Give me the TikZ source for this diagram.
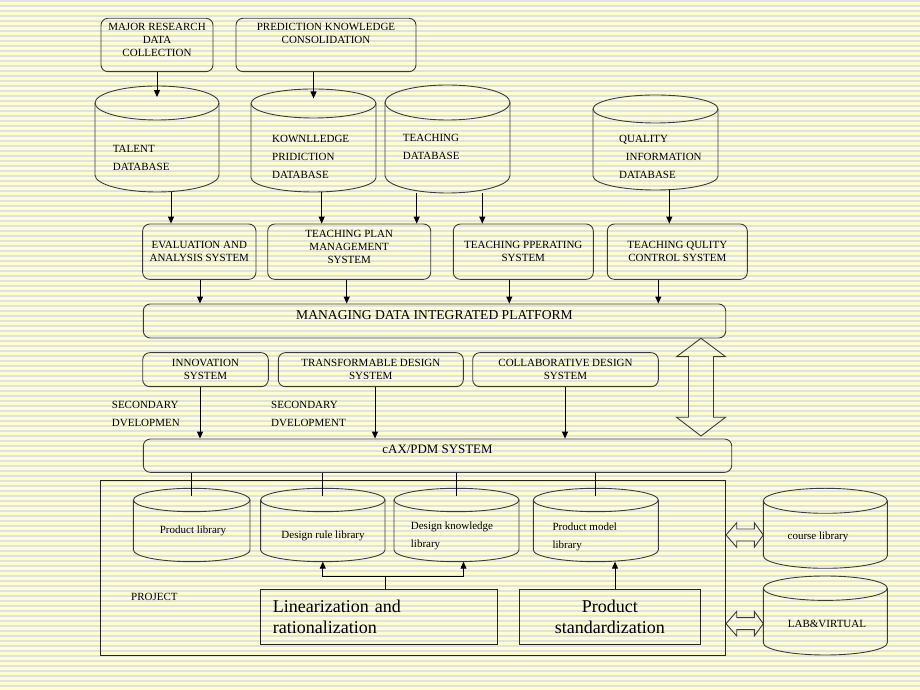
\documentclass[tikz,border=0pt]{standalone}
\usepackage{fontspec}
\setmainfont{Liberation Serif}
\usetikzlibrary{arrows.meta,positioning}
\definecolor{padyellow}{RGB}{255,255,204}
\definecolor{padline}{RGB}{224,224,234}
\definecolor{inkgray}{RGB}{60,60,60}

% cylinder: name, centre x, x radius, y of top ellipse, y of bottom ellipse, y radius
\newcommand{\dbcyl}[6]{%
  \draw[cylline] (#2-#3,#4) -- (#2-#3,#5) arc[start angle=180,end angle=360,x radius=#3,y radius=#6] -- (#2+#3,#4);
  \draw[cylline] (#2,#4) ellipse[x radius=#3,y radius=#6];
  \coordinate (#1-in) at (#2,#4+0.35*#6);
  \coordinate (#1-bot) at (#2,#5-#6);
}

\tikzset{
  rbox/.style={draw=inkgray, line width=0.9pt, rounded corners=7pt, align=center, inner sep=0pt, font=\fontsize{11}{13}\selectfont},
  sqbox/.style={draw=black!85, line width=0.9pt, inner sep=0pt},
  txt/.style={inner sep=0pt, align=center, font=\fontsize{11}{13}\selectfont},
  dbtxt/.style={inner sep=0pt, align=left, anchor=west, font=\fontsize{11}{18}\selectfont},
  cylline/.style={draw=inkgray, line width=0.9pt},
  arr/.style={-{Triangle[length=7pt,width=6pt]}, line width=1pt},
  link/.style={line width=0.9pt},
  hollow/.style={draw=inkgray, line width=0.9pt},
}

\begin{document}
\begin{tikzpicture}[x=1pt,y=1pt]
\useasboundingbox (0,0) rectangle (920,690);
\fill[padyellow] (0,0) rectangle (920,690);
\foreach \yy in {4,9,...,689}
  \draw[padline, line width=1.6pt] (0,\yy) -- (920,\yy);

% top row
\node[rbox, minimum width=112pt, minimum height=53.4pt] (major) at (157,645) {};
\node[txt] (major-t) at (157,650) {MAJOR RESEARCH\\DATA\\COLLECTION};
\node[rbox, minimum width=180pt, minimum height=53.4pt] (pred) at (326,645) {};
\node[txt] (pred-t) at (326,656.7) {PREDICTION KNOWLEDGE\\CONSOLIDATION};

% databases
\dbcyl{talent}{157}{62}{587}{515}{17}
\dbcyl{know}{313.5}{62.5}{586.5}{512.5}{14.5}
\dbcyl{teach}{447.5}{62.5}{587.5}{514.5}{17.5}
\dbcyl{qual}{655.5}{62.5}{581}{514}{14}
\node[dbtxt] (talent-t) at (112.7,532.5) {TALENT\\DATABASE};
\node[dbtxt] (know-t) at (272,533.3) {KOWNLLEDGE\\PRIDICTION\\DATABASE};
\node[dbtxt] (teach-t) at (402.7,543.2) {TEACHING\\DATABASE};
\node[dbtxt] (qual-t) at (619,533.1) {QUALITY\\\hspace*{6.7pt}INFORMATION\\DATABASE};

\draw[arr] (major.south) -- (talent-in);
\draw[arr] (pred.south -| know-in) -- (know-in);

% systems
\node[rbox, minimum width=113.3pt, minimum height=55.3pt] (eval) at (199.3,438.3) {EVALUATION AND\\ANALYSIS SYSTEM};
\node[rbox, minimum width=163pt, minimum height=55.3pt] (plan) at (349.2,438.3) {};
\node[txt] (plan-t) at (349.2,442.7) {TEACHING PLAN\\MANAGEMENT\\SYSTEM};
\node[rbox, minimum width=140pt, minimum height=55.3pt] (oper) at (523.3,438.3) {TEACHING PPERATING\\SYSTEM};
\node[rbox, minimum width=140pt, minimum height=55.3pt] (qctl) at (677.3,438.3) {TEACHING QULITY\\CONTROL SYSTEM};

\draw[arr] ([xshift=14pt]talent-bot) coordinate (a1) -- (a1 |- eval.north);
\draw[arr] ([xshift=8.2pt]know-bot) coordinate (a2) -- (a2 |- plan.north);
\draw[arr] ([xshift=-30.8pt]teach-bot) coordinate (a3) -- (a3 |- plan.north);
\draw[arr] ([xshift=34.8pt]teach-bot) coordinate (a4) -- (a4 |- oper.north);
\draw[arr] ([xshift=13.8pt]qual-bot) coordinate (a5) -- (a5 |- qctl.north);

% platform
\node[rbox, minimum width=582.4pt, minimum height=34pt] (platform) at (434.5,369) {};
\node[txt, font=\fontsize{13.6}{16}\selectfont] (platform-t) at (434.5,375) {MANAGING DATA INTEGRATED PLATFORM};

\draw[arr] ([xshift=0.7pt]eval.south) coordinate (b1) -- (b1 |- platform.north);
\draw[arr] ([xshift=-2.5pt]plan.south) coordinate (b2) -- (b2 |- platform.north);
\draw[arr] ([xshift=-14pt]oper.south) coordinate (b3) -- (b3 |- platform.north);
\draw[arr] ([xshift=-19pt]qctl.south) coordinate (b4) -- (b4 |- platform.north);

% design systems
\node[rbox, minimum width=125.6pt, minimum height=34pt] (innov) at (205.5,320.3) {INNOVATION\\SYSTEM};
\node[rbox, minimum width=185pt, minimum height=34pt] (transf) at (370.8,320.3) {TRANSFORMABLE DESIGN\\SYSTEM};
\node[rbox, minimum width=185.6pt, minimum height=34pt] (collab) at (565.5,320.3) {COLLABORATIVE DESIGN\\SYSTEM};
\node[dbtxt] (sec1) at (111.7,276.5) {SECONDARY\\DVELOPMEN};
\node[dbtxt] (sec2) at (271,276.5) {SECONDARY\\DVELOPMENT};

\node[rbox, minimum width=588.4pt, minimum height=33.3pt] (cax) at (437.5,234.3) {};
\node[txt, font=\fontsize{12.9}{15}\selectfont] (cax-t) at (437.5,240.7) {cAX/PDM SYSTEM};

\draw[arr] ([xshift=-5.5pt]innov.south) coordinate (c1) -- (c1 |- cax.north);
\draw[arr] ([xshift=4.2pt]transf.south) coordinate (c2) -- (c2 |- cax.north);
\draw[arr] ([xshift=-0.5pt]collab.south) coordinate (c3) -- (c3 |- cax.north);

\draw[hollow, shift={(701,254)}] (0,0) -- (24.5,18.7) -- (12.5,18.7) -- (12.5,79.3) -- (24.5,79.3) -- (0,97.7)
  -- (-24.5,79.3) -- (-12.5,79.3) -- (-12.5,18.7) -- (-24.5,18.7) -- cycle;

% project
\node[sqbox, minimum width=625pt, minimum height=174.3pt] (project) at (413.2,122.15) {};
\node[dbtxt] (project-t) at (131,93.3) {PROJECT};

\dbcyl{prodlib}{191.7}{58.3}{190}{140}{11.7}
\dbcyl{rulelib}{322.8}{62.2}{190}{140}{11.7}
\dbcyl{knowlib}{456.5}{62.5}{190}{140}{11.7}
\dbcyl{modellib}{595.8}{62.5}{190}{140}{11.7}
\node[txt] (prodlib-t) at (193,159) {Product library};
\node[txt] (rulelib-t) at (323,154.3) {Design rule library};
\node[dbtxt] (knowlib-t) at (410.7,154.2) {Design knowledge\\library};
\node[dbtxt] (modellib-t) at (552.3,153.2) {Product model\\library};

\draw[link] (prodlib-in |- cax.south) -- (prodlib-in);
\draw[link] (rulelib-in |- cax.south) -- (rulelib-in);
\draw[link] (knowlib-in |- cax.south) -- (knowlib-in);
\draw[link] (modellib-in |- cax.south) -- (modellib-in);

\node[sqbox, minimum width=236.3pt, minimum height=55pt, text width=212.3pt, inner xsep=12pt, align=left,
  font=\fontsize{18}{21.5}\selectfont] (lin) at (379,73.2) {Linearization and\\rationalization};
\node[sqbox, minimum width=181.7pt, minimum height=55pt, align=center,
  font=\fontsize{18}{21.5}\selectfont] (std) at (609.8,73.2) {Product\\standardization};

\coordinate (fork) at (385,113.3);
\draw[link] (lin.north -| fork) -- (fork);
\draw[arr] (fork) -| (rulelib-bot);
\draw[arr] (fork) -| ([xshift=7pt]knowlib-bot);
\draw[arr] ([xshift=5.2pt]std.north) coordinate (d1) -- (d1 |- modellib-bot);

% outside libraries
\dbcyl{course}{825.3}{62}{189.2}{134.2}{12.5}
\dbcyl{labv}{825.3}{62}{101.8}{47.2}{12.2}
\node[txt] (course-t) at (818,153.3) {course library};
\node[txt] (labv-t) at (827,66) {LAB\&VIRTUAL};

\foreach \yy in {155,66.3}
  \draw[hollow, shift={(726,\yy)}] (0,0) -- (10.7,12.3) -- (10.7,6) -- (28.3,6) -- (28.3,12.3) -- (37.3,0)
    -- (28.3,-12.3) -- (28.3,-6) -- (10.7,-6) -- (10.7,-12.3) -- cycle;
\end{tikzpicture}
\end{document}
